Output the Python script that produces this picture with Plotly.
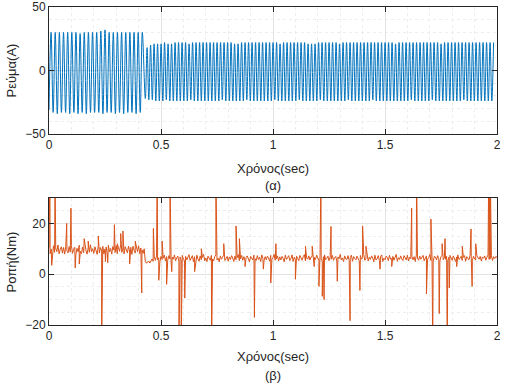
import plotly.graph_objects as go
from plotly.subplots import make_subplots

# ---------------- data ----------------
# Current (A): per-cycle extrema, segment 1 (before load change) and segment 2
seg1_freq = 54.0          # visible cycles per second before the change
seg2_freq = 64.0          # visible cycles per second after the change
seg2_start = 0.43         # s
seg1_troughs = [-31, -33, -34, -33, -33, -34, -33, -34, -33, -34, -33, -33,
                -33, -34, -33, -33, -34, -33, -34, -33, -33, -34, -33]
seg1_peaks = [30, 30, 30, 30, 30, 30, 30, 29, 30, 30, 30, 30,
              31, 32, 30, 30, 30, 30, 30, 30, 30, 30, 30]
seg2_troughs = [-22, -23, -23, -24, -24, -24, -23, -24, -24, -24,
                -24, -24, -24, -23, -24, -24, -24, -24, -24, -24,
                -24, -24, -23, -24, -24, -24, -24, -24, -24, -23,
                -24, -24, -24, -24, -24, -24, -24, -23, -24, -24,
                -24, -24, -24, -24, -23, -24, -24, -24, -24, -24,
                -23, -24, -24, -24, -24, -24, -24, -24, -23, -24,
                -24, -24, -24, -24, -24, -23, -24, -24, -24, -24,
                -24, -24, -24, -24, -24, -24, -23, -24, -24, -24,
                -24, -24, -23, -24, -24, -24, -24, -24, -24, -24,
                -24, -23, -24, -24, -24, -24, -24, -24, -24, -24]
seg2_peaks = [18, 20, 21, 21, 21, 22, 21, 21, 22, 22,
              22, 22, 21, 22, 22, 22, 22, 22, 22, 22,
              22, 22, 22, 22, 22, 21, 21, 22, 22, 22,
              22, 22, 22, 22, 22, 22, 22, 22, 21, 22,
              22, 22, 22, 22, 22, 22, 21, 21, 21, 22,
              22, 22, 22, 22, 22, 21, 22, 22, 22, 22,
              22, 22, 22, 22, 22, 22, 22, 22, 22, 22,
              22, 21, 22, 22, 22, 22, 22, 22, 22, 22,
              22, 22, 22, 22, 21, 22, 22, 22, 22, 22,
              22, 22, 22, 22, 22, 22, 22, 22, 22, 22]

# Torque (Nm): noisy baseline every 0.005 s from 0.000 to 2.000
torque_step = 0.005
torque_base = [
    10.4, 8.1, 9.9, 7.8, 11.2, 8.6, 10.1, 8.9, 11.5, 8.0,
    9.7, 10.8, 8.3, 10.5, 7.9, 11.0, 9.2, 8.4, 10.9, 8.7,
    11.3, 8.2, 9.8, 10.6, 7.7, 10.2, 8.8, 11.4, 9.0, 8.1,
    10.7, 8.5, 11.1, 9.4, 7.9, 10.3, 8.6, 11.6, 8.9, 10.0,
    8.2, 10.8, 9.3, 7.8, 11.2, 8.4, 10.5, 9.1, 11.0, 8.0,
    9.9, 10.7, 8.3, 11.4, 8.8, 10.1, 7.9, 10.9, 9.5, 8.5,
    11.3, 8.1, 10.4, 9.0, 11.7, 8.6, 10.2, 8.0, 10.8, 9.2,
    8.4, 11.1, 8.7, 10.6, 7.8, 11.0, 9.4, 8.3, 10.5, 8.9,
    11.2, 8.1, 10.3, 9.6, 8.2, 10.0,
    5.0, 4.3, 4.6, 5.2, 4.4, 5.5, 6.0, 5.1, 6.8, 5.4,
    7.2, 5.6, 6.5, 4.9, 7.0, 5.8, 6.3, 7.5, 5.2, 6.9,
    5.5, 7.3, 6.0, 4.8, 6.7, 5.9, 7.6, 5.3, 6.4, 7.1,
    5.0, 6.8, 5.7, 7.4, 6.1, 5.2, 7.0, 5.6, 6.6, 7.7,
    5.4, 6.2, 7.3, 4.9, 6.9, 5.8, 7.5, 6.0, 5.1, 7.2,
    5.7, 6.6, 7.8, 5.3, 6.4, 5.0, 7.1, 6.2, 5.5, 7.4,
    6.0, 5.2, 6.9, 7.6, 5.6, 6.3, 4.9, 7.2, 5.9, 6.7,
    7.5, 5.4, 6.1, 7.0, 5.1, 6.8, 5.8, 7.3, 6.4, 5.0,
    7.1, 5.7, 6.5, 7.7, 5.3, 6.0, 7.4, 5.5, 6.9, 5.2,
    6.6, 7.2, 5.9, 4.9, 7.0, 6.3, 5.6, 7.5, 6.1, 5.4,
    7.3, 5.8, 6.7, 5.0, 7.6, 6.2, 5.3, 6.9, 5.7, 7.1,
    6.4, 5.1, 7.4, 5.9, 6.6, 7.8, 5.5, 6.0, 7.2, 5.2,
    6.8, 5.6, 7.0, 6.3, 4.9, 7.5, 5.8, 6.5, 7.3, 5.4,
    6.1, 7.6, 5.0, 6.7, 5.7, 7.1, 6.2, 5.3, 7.4, 6.0,
    5.5, 6.9, 7.7, 5.2, 6.4, 5.9, 7.2, 5.6, 6.8, 7.0,
    5.1, 6.6, 5.8, 7.5, 6.3, 5.4, 7.3, 6.0, 5.0, 6.9,
    7.6, 5.7, 6.2, 7.1, 5.3, 6.7, 5.9, 7.4, 5.5, 6.5,
    7.0, 5.2, 6.8, 6.1, 7.8, 5.6, 6.4, 5.0, 7.2, 6.0,
    5.8, 7.3, 5.4, 6.6, 7.5, 5.1, 6.9, 6.2, 5.7, 7.1,
    6.3, 5.3, 7.4, 5.9, 6.5, 7.7, 5.5, 6.0, 7.0, 5.2,
    6.7, 5.8, 7.2, 6.4, 4.9, 7.5, 5.6, 6.1, 7.3, 5.4,
    6.9, 7.6, 5.0, 6.3, 5.7, 7.1, 6.6, 5.3, 7.4, 5.9,
    6.2, 7.0, 5.5, 6.8, 7.8, 5.1, 6.5, 5.8, 7.2, 6.0,
    5.4, 7.3, 6.4, 5.6, 7.5, 5.2, 6.7, 6.1, 7.0, 5.7,
    6.9, 5.0, 7.6, 6.3, 5.5, 7.1, 5.9, 6.6, 7.4, 5.3,
    6.0, 7.2, 5.8, 6.5, 7.7, 5.4, 6.2, 5.1, 7.0, 6.8,
    5.6, 7.3, 6.1, 5.2, 6.9, 7.5, 5.7, 6.4, 5.9, 7.1,
    5.3, 6.7, 7.4, 6.0, 5.5, 7.2, 6.3, 5.0, 6.8, 7.6,
    5.8, 6.2, 7.0, 5.4, 6.6, 7.3, 5.1, 6.9, 6.1, 5.7,
    7.5, 6.4, 5.3, 7.1, 6.0, 5.6, 7.4, 6.5, 5.9, 7.0,
    5.2, 6.8, 6.3, 7.2, 5.5, 6.7, 7.6, 5.8, 6.1, 7.3,
    5.4, 6.9, 6.2, 7.0, 6.6]
spike_times = [0.004, 0.012, 0.027, 0.079, 0.098, 0.117, 0.135, 0.157, 0.175,
               0.22, 0.235, 0.252, 0.262, 0.292, 0.305, 0.32, 0.33, 0.36,
               0.385, 0.414, 0.466, 0.483, 0.49, 0.505, 0.525, 0.54, 0.548,
               0.58, 0.59, 0.606, 0.65, 0.68, 0.726, 0.745, 0.78, 0.835,
               0.85, 0.875, 0.917, 0.957, 0.99, 1.013, 1.10, 1.145, 1.175,
               1.184, 1.205, 1.214, 1.22, 1.228, 1.259, 1.287, 1.344, 1.388,
               1.40, 1.415, 1.478, 1.53, 1.619, 1.641, 1.685, 1.705, 1.713,
               1.742, 1.755, 1.768, 1.778, 1.787, 1.82, 1.845, 1.884, 1.889,
               1.905, 1.963, 1.966, 1.97]
spike_values = [40, 3.5, 40, 20, 26, 2.5, 4, 14, 13,
                15, -30, 5, 4.5, 19.5, 12, 16, 17, 4,
                13, -7.4, 18, 40, -2.4, 13, -4, 40, 1,
                -30, -30, -9.4, 1, 10, -30, 40, 12, 19,
                14, 3, -17, 2, -3.5, 12, -2, 11, 11,
                3, -4.8, 40, -8.7, -10, 18.8, -2.8, -18.3, -6.4,
                19, 11, 2, 3, 26, 40, -7.8, 21.7, -30,
                -15.5, 12, 14, -30, -5.4, 3, 11, 17.8, -4.8,
                12, 40, 40, 40]

x_ticks = [0, 0.5, 1, 1.5, 2]
x_tick_text = ["0", "0.5", "1", "1.5", "2"]

# ---------------- build series ----------------
cur_t, cur_v = [], []
for k in range(len(seg1_peaks)):
    cur_t.append((2 * k) / (2 * seg1_freq)); cur_v.append(seg1_troughs[k])
    cur_t.append((2 * k + 1) / (2 * seg1_freq)); cur_v.append(seg1_peaks[k])
for k in range(len(seg2_peaks)):
    cur_t.append(seg2_start + (2 * k) / (2 * seg2_freq)); cur_v.append(seg2_troughs[k])
    cur_t.append(seg2_start + (2 * k + 1) / (2 * seg2_freq)); cur_v.append(seg2_peaks[k])

pts = [(round(i * torque_step, 4), v) for i, v in enumerate(torque_base)]
pts += list(zip(spike_times, spike_values))
pts.sort(key=lambda p: p[0])
tq_t = [p[0] for p in pts]
tq_v = [p[1] for p in pts]

# ---------------- figure ----------------
fig = make_subplots(rows=2, cols=1, vertical_spacing=0.2013)
fig.add_trace(go.Scatter(x=cur_t, y=cur_v, mode="lines",
                         line=dict(color="#0072BD", width=1, shape="spline"),
                         showlegend=False), row=1, col=1)
fig.add_trace(go.Scatter(x=tq_t, y=tq_v, mode="lines",
                         line=dict(color="#D95319", width=1),
                         showlegend=False), row=2, col=1)

axis_common = dict(
    showline=True, mirror="allticks", linecolor="#262626", linewidth=1,
    ticks="inside", ticklen=5, tickcolor="#262626", automargin=False,
    showgrid=True, gridcolor="#E3E3E3", gridwidth=1, zeroline=False,
    tickfont=dict(family="Liberation Sans, Arial", size=12, color="#262626"),
)
minor_x = dict(dtick=0.1, showgrid=True, gridcolor="#EDEDED", griddash="dot", ticks="")
for r in (1, 2):
    fig.update_xaxes(range=[0, 2], tickvals=x_ticks, ticktext=x_tick_text,
                     minor=minor_x, row=r, col=1, **axis_common)
fig.update_yaxes(range=[-50, 50], tickvals=[-50, 0, 50],
                 minor=dict(dtick=10, showgrid=True, gridcolor="#EDEDED", griddash="dot", ticks=""),
                 row=1, col=1, **axis_common)
fig.update_yaxes(range=[-20, 30], tickvals=[-20, 0, 20],
                 minor=dict(dtick=5, showgrid=True, gridcolor="#EDEDED", griddash="dot", ticks=""),
                 row=2, col=1, **axis_common)

fig.update_layout(yaxis=dict(domain=[0.6006, 1.0]), yaxis2=dict(domain=[0.0, 0.3994]))

lab_font = dict(family="Liberation Sans, Arial", size=13, color="#262626")
anns = [
    dict(text="Χρόνος(sec)", x=0.5, y=0.4906, yanchor="middle"),
    dict(text="(α)", x=0.5, y=0.440, yanchor="middle"),
    dict(text="Χρόνος(sec)", x=0.5, y=-0.1006, yanchor="middle"),
    dict(text="(β)", x=0.5, y=-0.160, yanchor="middle"),
]
for a in anns:
    fig.add_annotation(xref="paper", yref="paper", showarrow=False,
                       xanchor="center", font=lab_font, **a)
fig.add_annotation(text="Ρεύμα(A)", xref="paper", yref="paper", x=-0.0826, y=0.8003,
                   textangle=-90, showarrow=False, xanchor="center", yanchor="middle", font=lab_font)
fig.add_annotation(text="Ροπή(Nm)", xref="paper", yref="paper", x=-0.0826, y=0.1997,
                   textangle=-90, showarrow=False, xanchor="center", yanchor="middle", font=lab_font)

fig.update_layout(width=507, height=389, margin=dict(l=49, r=10, t=7, b=64, autoexpand=False),
                  paper_bgcolor="white", plot_bgcolor="white")
fig.write_html("out.html", config={"displayModeBar": False},
               post_script="document.body.style.margin='0';document.body.style.padding='0';")
